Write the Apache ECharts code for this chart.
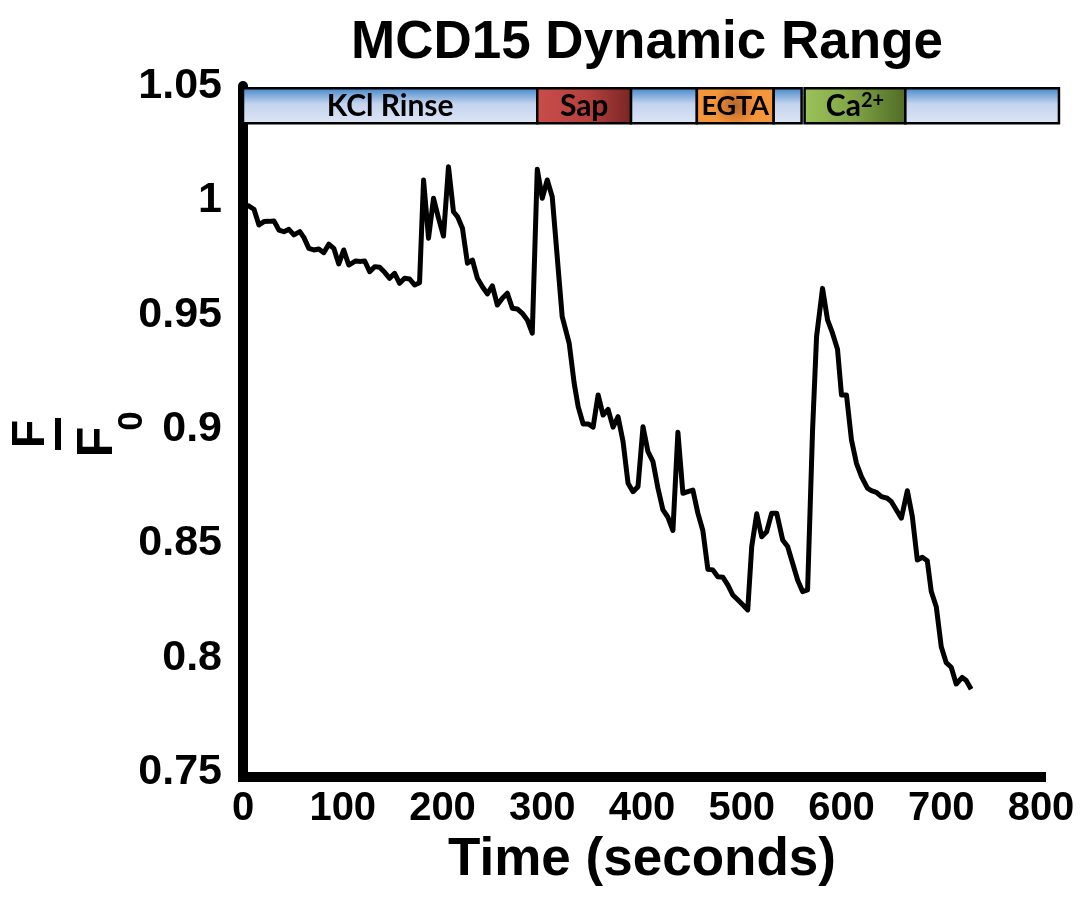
<!DOCTYPE html>
<html>
<head>
<meta charset="utf-8">
<script src="https://cdn.jsdelivr.net/npm/echarts@6/dist/echarts.min.js"></script>
<style>html,body{margin:0;padding:0;background:#fff;}#c{width:1080px;height:901px;}</style>
</head>
<body>
<div id="c"></div>
<script>
// ---- data ----
const timeSec = [1, 6, 11, 16, 21, 26, 31, 36, 41, 46, 51, 57, 61, 66, 71, 76, 81, 86, 91, 96,
  101, 106, 113, 118, 122, 127, 132, 137, 142, 147, 152, 157, 162, 167, 172, 177, 181, 186, 191, 196,
  201, 206, 211, 215, 220, 225, 230, 235, 240, 245, 250, 255, 260, 265, 270, 275, 280, 285, 290, 295,
  300, 305, 310, 320, 327, 332, 336, 341, 346, 351, 356, 361, 366, 371, 376, 381, 386, 391, 396,
  401, 406, 411, 416, 421, 426, 431, 436, 441, 446, 451, 456, 461, 466, 471, 476, 481, 486, 491, 496,
  501, 506, 510, 515, 520, 525, 530, 535, 541, 546, 551, 556, 561, 566, 571, 575, 581, 586, 591, 596,
  600, 605, 610, 615, 620, 626, 630, 635, 640, 646, 650, 655, 660, 666, 671, 676, 681, 686, 690, 695,
  700, 705, 710, 715, 721, 725, 730];
const ratioFF0 = [0.998, 0.9975, 0.9961, 0.9892, 0.9907, 0.9908, 0.9910, 0.9870, 0.9863, 0.9873, 0.9849, 0.9863, 0.9838, 0.9790, 0.9783, 0.9787, 0.9771, 0.9808, 0.9790, 0.9722,
  0.9783, 0.9717, 0.9735, 0.9733, 0.9735, 0.9688, 0.9710, 0.9707, 0.9685, 0.9659, 0.9681, 0.9637, 0.9659, 0.9656, 0.9630, 0.9640, 1.0089, 0.9834, 1.0009, 0.9922,
  0.9844, 1.0147, 0.9950, 0.9929, 0.9878, 0.9725, 0.9739, 0.9659, 0.9622, 0.9591, 0.9626, 0.9542, 0.9572, 0.9594, 0.9528, 0.9525, 0.9506, 0.9477, 0.9419, 1.0136,
  1.0009, 1.0089, 1.0016, 0.9491, 0.9375, 0.9200, 0.9098, 0.9022, 0.9022, 0.9008, 0.9149, 0.9061, 0.9086, 0.9008, 0.9054, 0.8945, 0.8763, 0.8726, 0.8748,
  0.9010, 0.8901, 0.8857, 0.8741, 0.8646, 0.8614, 0.8556, 0.8986, 0.8719, 0.8726, 0.8733, 0.8632, 0.8556, 0.8387, 0.8384, 0.8354, 0.8352, 0.8318, 0.8274, 0.8253,
  0.8231, 0.8209, 0.8486, 0.8629, 0.8529, 0.8551, 0.8632, 0.8632, 0.8515, 0.8486, 0.8413, 0.8340, 0.8289, 0.8296, 0.8996, 0.9404, 0.9615, 0.9477, 0.9419, 0.9349,
  0.9149, 0.9149, 0.8952, 0.8850, 0.8792, 0.8741, 0.8730, 0.8723, 0.8704, 0.8697, 0.8682, 0.8646, 0.8610, 0.8730, 0.8617, 0.8427, 0.8439, 0.8424, 0.8289, 0.8223,
  0.8048, 0.7978, 0.7958, 0.7885, 0.7914, 0.7900, 0.7862];

// treatment band segments (seconds)
const bandStart = [0, 295, 389, 455, 532, 563, 664];
const bandEnd   = [295, 389, 455, 532, 560, 664, 818];
const bandLabel = ['KCl Rinse', 'Sap', '', 'EGTA', '', 'Ca{sup|2+}', ''];
const bandKind  = ['buffer', 'sap', 'buffer', 'egta', 'buffer', 'ca', 'buffer'];

const yTicks = [0.75, 0.8, 0.85, 0.9, 0.95, 1, 1.05];
const xTicks = [0, 100, 200, 300, 400, 500, 600, 700, 800];

// ---- chart ----
const G = echarts.graphic;
function fillFor(kind) {
  if (kind === 'sap') return new G.LinearGradient(0, 0, 1, 0, [
    {offset: 0, color: '#c94d4b'}, {offset: 0.55, color: '#b4403e'}, {offset: 1, color: '#772523'}]);
  if (kind === 'egta') return new G.RadialGradient(0.5, 0.5, 0.6, [
    {offset: 0, color: '#b0652e'}, {offset: 0.6, color: '#e08434'}, {offset: 1, color: '#f5963a'}]);
  if (kind === 'ca') return new G.LinearGradient(0, 0, 1, 0, [
    {offset: 0, color: '#9cc35a'}, {offset: 0.5, color: '#80a246'}, {offset: 1, color: '#4f6b25'}]);
  return new G.LinearGradient(0, 0, 0, 1, [
    {offset: 0, color: '#3b80c5'}, {offset: 0.18, color: '#74a4d8'}, {offset: 0.45, color: '#c4d4ee'}, {offset: 1, color: '#dde6f5'}]);
}
const BAND_TOP = 1.049, BAND_BOTTOM = 1.0337;

const chart = echarts.init(document.getElementById('c'), null, {renderer: 'canvas'});
const FONT = '"Liberation Sans", Arial, sans-serif';
chart.setOption({
  animation: false,
  backgroundColor: '#fff',
  title: {
    text: 'MCD15 Dynamic Range',
    left: 642, top: 12, textAlign: 'center',
    textStyle: {fontFamily: FONT, fontWeight: 'bold', fontSize: 53, color: '#000'}
  },
  grid: {left: 243, right: 39, top: 86, bottom: 129, containLabel: false},
  xAxis: {
    type: 'value', min: xTicks[0], max: xTicks[xTicks.length - 1], interval: 100,
    offset: 5,
    name: 'Time (seconds)', nameLocation: 'middle', nameGap: 38,
    nameTextStyle: {fontFamily: FONT, fontWeight: 'bold', fontSize: 53, color: '#000'},
    axisLine: {show: true, lineStyle: {color: '#000', width: 10, cap: 'square'}},
    axisTick: {show: false}, splitLine: {show: false},
    axisLabel: {margin: 12, fontFamily: FONT, fontWeight: 'bold', fontSize: 40, color: '#000'}
  },
  yAxis: {
    type: 'value', min: yTicks[0], max: yTicks[yTicks.length - 1], interval: 0.05,
    axisLine: {show: true, lineStyle: {color: '#000', width: 10}},
    axisTick: {show: false}, splitLine: {show: false},
    axisLabel: {margin: 21, fontFamily: FONT, fontWeight: 'bold', fontSize: 43, color: '#000',
      formatter: v => String(Math.round(v * 100) / 100)}
  },
  graphic: [
    {type: 'text', x: 31, y: 434, rotation: Math.PI / 2,
      style: {text: 'F', font: 'bold 46px ' + FONT, fill: '#000', align: 'center', verticalAlign: 'middle'}},
    {type: 'rect', shape: {x: 55, y: 418, width: 6, height: 32}, style: {fill: '#000'}},
    {type: 'text', x: 98, y: 442, rotation: Math.PI / 2,
      style: {text: 'F', font: 'bold 50px ' + FONT, fill: '#000', align: 'center', verticalAlign: 'middle'}},
    {type: 'text', x: 132, y: 421, rotation: Math.PI / 2,
      style: {text: '0', font: 'bold 35px ' + FONT, fill: '#000', align: 'center', verticalAlign: 'middle'}}
  ],
  series: [
    {
      type: 'line',
      data: timeSec.map((t, i) => [t, ratioFF0[i]]),
      showSymbol: false, symbol: 'none',
      lineStyle: {color: '#000', width: 5, join: 'round'},
      z: 3
    },
    {
      type: 'custom',
      clip: false,
      z: 4,
      data: bandStart.map((s, i) => [s, bandEnd[i], i]),
      renderItem: function (params, api) {
        const i = api.value(2);
        const p0 = api.coord([api.value(0), BAND_TOP]);
        const p1 = api.coord([api.value(1), BAND_BOTTOM]);
        const kind = bandKind[i];
        const children = [{
          type: 'rect',
          shape: {x: p0[0], y: p0[1], width: p1[0] - p0[0], height: p1[1] - p0[1]},
          style: {fill: fillFor(kind), stroke: '#000', lineWidth: 2.5}
        }];
        if (bandLabel[i]) {
          children.push({
            type: 'text',
            style: {
              text: bandLabel[i],
              x: (p0[0] + p1[0]) / 2, y: (p0[1] + p1[1]) / 2 + 1,
              align: 'center', verticalAlign: 'middle',
              font: 'bold ' + (kind === 'egta' ? 27 : 30) + 'px Lato, "Open Sans", sans-serif',
              fill: '#000',
              rich: {sup: {fontSize: 20, fontWeight: 'bold', fontFamily: 'Lato', padding: [0, 0, 12, 0], fill: '#000'}}
            }
          });
        }
        return {type: 'group', children: children};
      }
    }
  ]
});
</script>
</body>
</html>
